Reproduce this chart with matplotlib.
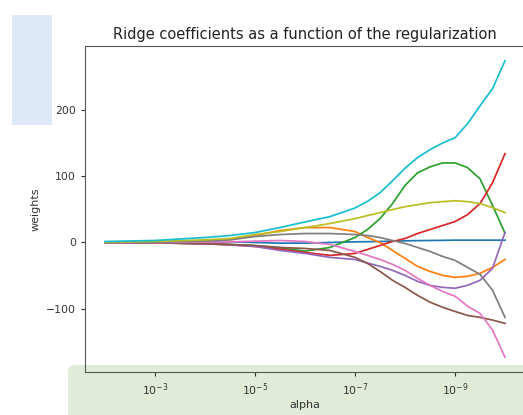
import numpy as np
import matplotlib
matplotlib.use("Agg")
import matplotlib.pyplot as plt
from matplotlib.patches import Rectangle, FancyBboxPatch

# Regularization strength: 10^-d for each d below
decades = [2, 3, 4, 4.5, 5, 5.5, 6, 6.5, 7, 7.25, 7.5, 7.75, 8, 8.25, 8.5,
           8.75, 9, 9.25, 9.5, 9.75, 10]

# Ridge coefficient paths (one list per feature), values along `decades`
coef_0 = [0, 0.5, 1, 1, 0, -1, -1, 0, 1, 1.2, 1.5, 2, 2.5, 2.8, 3, 3.2, 3.5, 3.5, 3.5, 3.5, 3.5]
coef_1 = [0, 0.5, 2, 4, 10.5, 18, 22.5, 22.5, 16.5, 7.5, 0, -12, -24, -36, -43.6, -49.6, -52.6, -51, -46.6, -37.6, -25.6]
coef_2 = [0, -0.5, -2, -3, -5, -8, -13, -7.5, 7.5, 19.5, 36, 58.6, 86, 105, 114, 120, 120, 113, 96, 56, 14]
coef_3 = [0, -0.5, -2, -3.5, -6, -10, -15, -19.5, -16.5, -10.5, -4.5, 1.5, 6, 13.5, 19.5, 25.6, 31.5, 42, 58.6, 90, 134]
coef_4 = [0, -0.5, -2, -3.5, -6, -12, -16.5, -22.5, -25.6, -31, -36, -42, -49.6, -58.6, -64.7, -67.7, -69, -64.7, -57, -39, 15]
coef_5 = [0, -0.5, -1.5, -3, -4.5, -7.5, -9, -12, -22.5, -31.6, -43.6, -57, -67.7, -79.7, -90, -97.7, -104, -110, -113, -117, -122]
coef_6 = [0, 0, 0.5, 1, 2, 3, 1.5, -3, -13.5, -19.5, -25.6, -33, -42, -54, -64.7, -73.7, -81, -96, -107, -132, -173]
coef_7 = [0, 0.5, 2, 4, 9, 12, 13.5, 13.5, 12, 10.5, 7.5, 3, -1.5, -7.5, -13.5, -21, -27, -37.6, -48, -72, -113]
coef_8 = [0.5, 1.5, 4, 6, 12, 16.5, 22.5, 28.6, 36, 40.6, 45, 49.6, 54, 57, 60, 61.6, 63, 61.6, 58.6, 52.6, 45]
coef_9 = [1.5, 3, 7.5, 10.5, 15, 22.5, 31, 39, 52, 62, 75, 93, 112, 128, 140, 150, 158, 179, 206, 232, 274]

coefs = [coef_0, coef_1, coef_2, coef_3, coef_4,
         coef_5, coef_6, coef_7, coef_8, coef_9]
alphas = 10.0 ** (-np.array(decades, dtype=float))

fig = plt.figure(figsize=(5.23, 4.15), dpi=100)

# Light panels behind the plot
fig.patches.append(Rectangle((12 / 523, 1 - 125 / 415), 40 / 523, 110 / 415,
                             transform=fig.transFigure, facecolor="#dde8f8",
                             edgecolor="none", zorder=-5))
fig.patches.append(FancyBboxPatch((68 / 523, -0.05), 0.9, (415 - 365) / 415 + 0.05,
                                  boxstyle="round,pad=0,rounding_size=0.015",
                                  transform=fig.transFigure, facecolor="#e0ecd8",
                                  edgecolor="none", zorder=-5))

ax = fig.add_axes([85 / 523, 1 - 372 / 415, 440 / 523, (372 - 46) / 415])
ax.set_facecolor("none")

colors = plt.rcParams["axes.prop_cycle"].by_key()["color"]
for i, c in enumerate(coefs):
    ax.plot(alphas, c, color=colors[i % len(colors)], lw=1.25)

ax.set_xscale("log")
ax.set_xlim(ax.get_xlim()[::-1])
ax.set_xticks([1e-3, 1e-5, 1e-7, 1e-9])
ax.xaxis.set_minor_locator(matplotlib.ticker.NullLocator())
ax.set_yticks([-100, 0, 100, 200])

for side in ("left", "bottom", "top", "right"):
    ax.spines[side].set_color("#555555")
ax.tick_params(colors="#333333", labelsize=7.8, length=3, width=0.8)

ax.set_xlabel("alpha", fontsize=8, color="#333333", labelpad=2)
ax.set_ylabel("weights", fontsize=8, color="#333333", labelpad=4)
ax.set_title("Ridge coefficients as a function of the regularization",
             fontsize=10.5, color="#222222", pad=5)

fig.savefig("out.png", dpi=100)
